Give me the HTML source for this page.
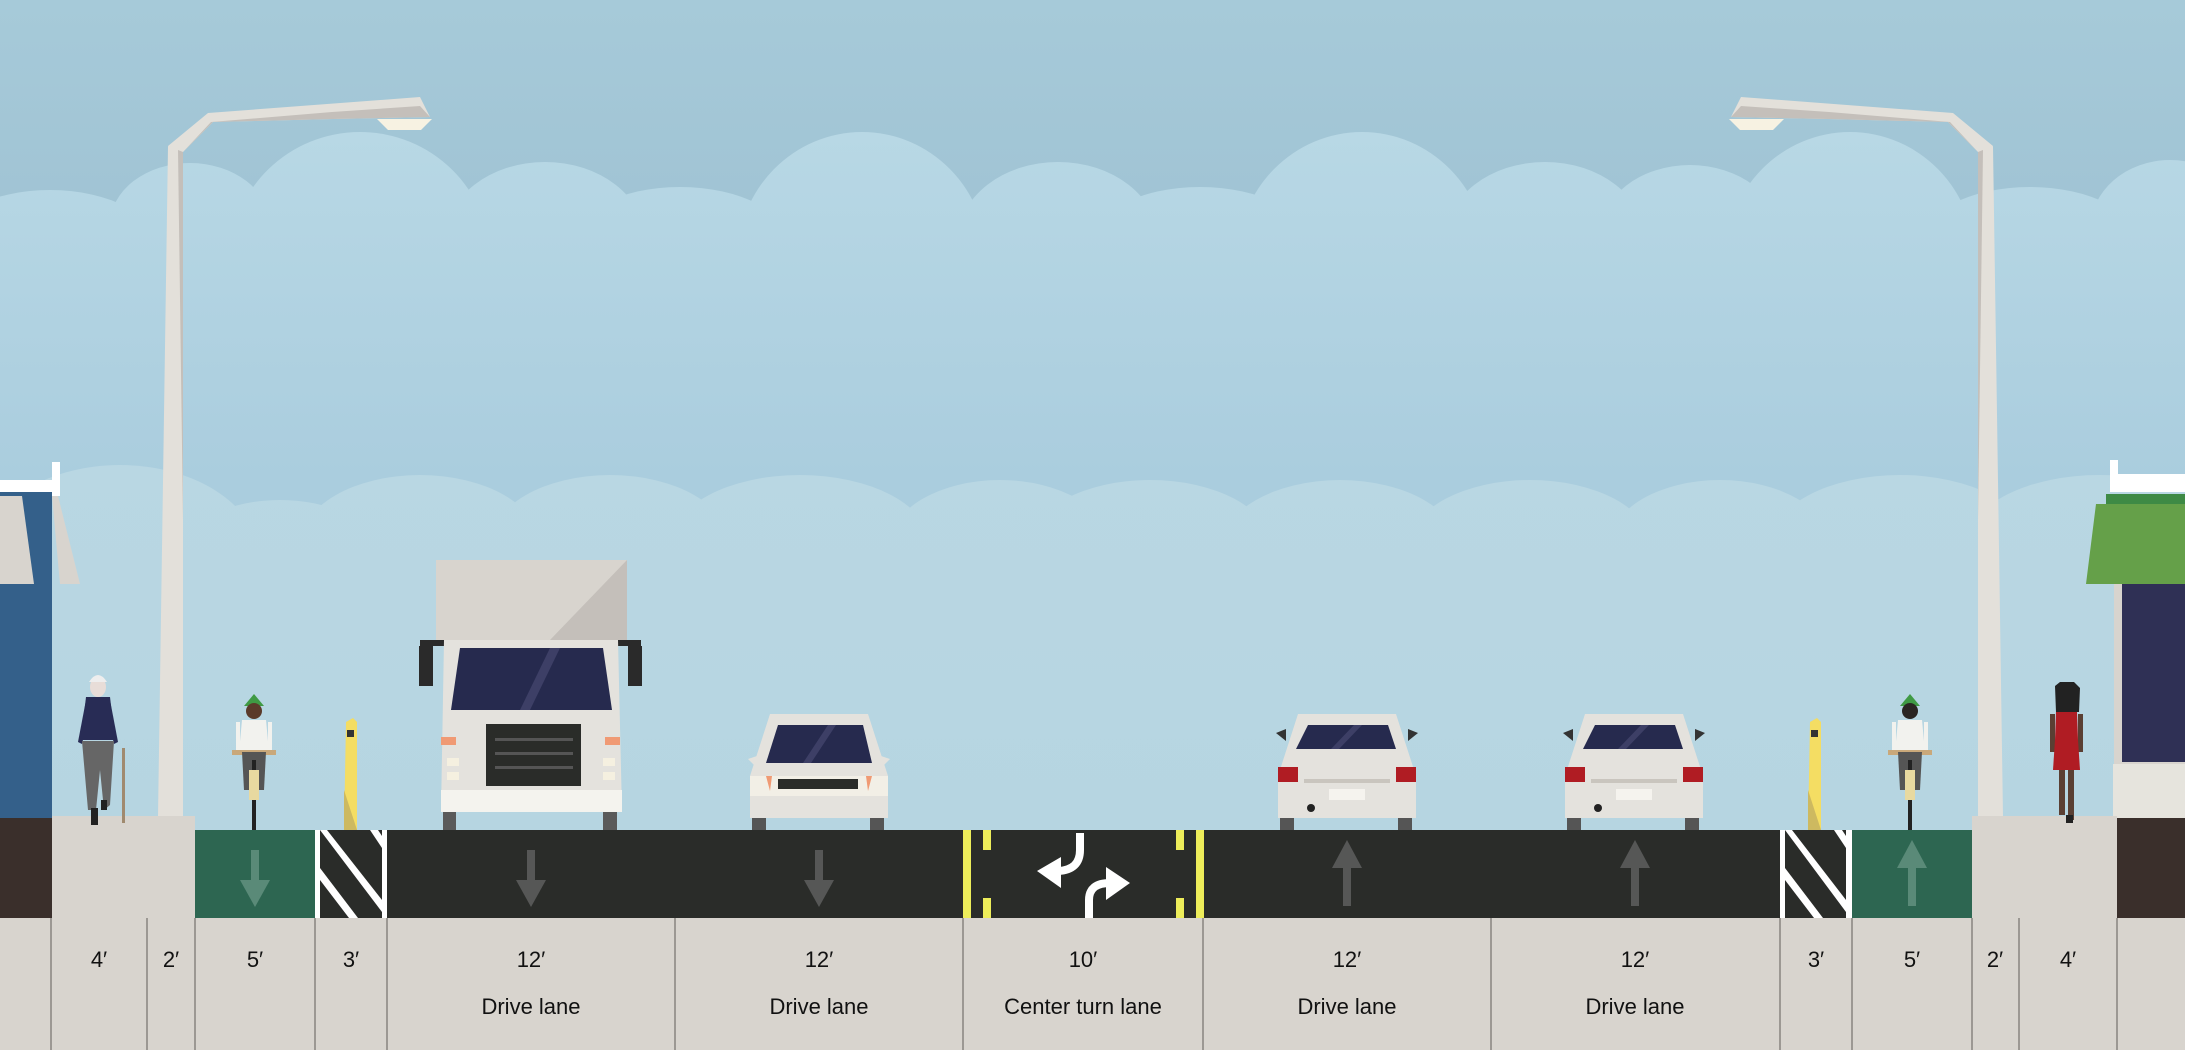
<!DOCTYPE html>
<html><head><meta charset="utf-8"><style>
html,body{margin:0;padding:0;width:2185px;height:1050px;overflow:hidden;background:#a9ccdb}
svg{display:block}
text{font-family:"Liberation Sans",sans-serif;font-size:22px;fill:#111;text-anchor:middle}
</style></head><body>
<svg width="2185" height="1050" viewBox="0 0 2185 1050" xmlns="http://www.w3.org/2000/svg">
<defs>
<linearGradient id="sky" x1="0" y1="0" x2="0" y2="1">
<stop offset="0" stop-color="#a6cad9"/><stop offset="0.25" stop-color="#9fc2d3"/><stop offset="1" stop-color="#a9cddc"/>
</linearGradient>
<linearGradient id="cl" gradientUnits="userSpaceOnUse" x1="0" y1="130" x2="0" y2="830">
<stop offset="0" stop-color="#b8d8e5"/><stop offset="0.5" stop-color="#aacdde"/><stop offset="1" stop-color="#a9ccdb"/>
</linearGradient>
<linearGradient id="cl2" gradientUnits="userSpaceOnUse" x1="0" y1="460" x2="0" y2="830">
<stop offset="0" stop-color="#b9d7e3"/><stop offset="1" stop-color="#b6d5e1"/>
</linearGradient>
</defs>
<rect width="2185" height="1050" fill="url(#sky)"/>
<!-- back clouds -->
<g fill="url(#cl)">
<rect x="0" y="205" width="2185" height="625"/>
<ellipse cx="50" cy="250" rx="110" ry="60"/>
<ellipse cx="190" cy="225" rx="80" ry="62"/>
<ellipse cx="360" cy="260" rx="130" ry="128"/>
<ellipse cx="545" cy="240" rx="100" ry="78"/>
<ellipse cx="680" cy="245" rx="110" ry="58"/>
<ellipse cx="862" cy="260" rx="125" ry="128"/>
<ellipse cx="1058" cy="240" rx="100" ry="78"/>
<ellipse cx="1200" cy="245" rx="110" ry="58"/>
<ellipse cx="1362" cy="260" rx="125" ry="128"/>
<ellipse cx="1545" cy="240" rx="100" ry="78"/>
<ellipse cx="1690" cy="235" rx="90" ry="70"/>
<ellipse cx="1850" cy="260" rx="125" ry="128"/>
<ellipse cx="2030" cy="245" rx="110" ry="58"/>
<ellipse cx="2170" cy="230" rx="80" ry="70"/>
</g>
<!-- front clouds -->
<g fill="url(#cl2)">
<rect x="0" y="520" width="2185" height="310"/>
<ellipse cx="120" cy="560" rx="140" ry="95"/>
<ellipse cx="280" cy="545" rx="90" ry="45"/>
<ellipse cx="420" cy="545" rx="120" ry="70"/>
<ellipse cx="610" cy="545" rx="120" ry="70"/>
<ellipse cx="800" cy="545" rx="130" ry="70"/>
<ellipse cx="1000" cy="545" rx="110" ry="65"/>
<ellipse cx="1150" cy="545" rx="120" ry="65"/>
<ellipse cx="1340" cy="550" rx="120" ry="70"/>
<ellipse cx="1530" cy="545" rx="120" ry="65"/>
<ellipse cx="1720" cy="545" rx="110" ry="65"/>
<ellipse cx="1900" cy="545" rx="130" ry="70"/>
<ellipse cx="2100" cy="540" rx="130" ry="65"/>
</g>

<!-- left building -->
<rect x="0" y="480" width="60" height="16" fill="#fff"/>
<rect x="52" y="462" width="8" height="20" fill="#fff"/>
<rect x="0" y="492" width="52" height="330" fill="#34608a"/>
<polygon points="0,496 22,496 34,584 0,584" fill="#d8d4ce"/>
<polygon points="52,496 58,496 80,584 60,584" fill="#d8d4ce"/>
<rect x="0" y="818" width="52" height="100" fill="#3a2f2b"/>
<!-- right building -->
<rect x="2110" y="474" width="75" height="18" fill="#fff"/>
<rect x="2110" y="460" width="8" height="16" fill="#fff"/>
<rect x="2106" y="494" width="79" height="10" fill="#3e8a45"/>
<polygon points="2096,504 2185,504 2185,584 2086,584" fill="#65a049"/>
<rect x="2114" y="584" width="71" height="180" fill="#d8d4ce"/>
<rect x="2122" y="584" width="63" height="178" fill="#2f3055"/>
<rect x="2113" y="764" width="72" height="55" fill="#e6e4dd"/>
<rect x="2117" y="818" width="68" height="100" fill="#3a2f2b"/>

<!-- lamps -->
<g>
<polygon points="168,146 183,150 183,817 158,817" fill="#e3e0da"/>
<polygon points="178,150 183,150 183,520" fill="#c4bfba"/>
<polygon points="168,146 208,113 420,97 430,117 333,119 213,122 183,152" fill="#e3e0da"/>
<polygon points="183,152 213,122 333,119 430,117 420,106 332,112 211,122" fill="#c4bfba"/>
<polygon points="377,119 432,119 421,130 388,130" fill="#f7f2e2"/>
</g>
<g transform="translate(2161,0) scale(-1,1)">
<polygon points="168,146 183,150 183,817 158,817" fill="#e3e0da"/>
<polygon points="178,150 183,150 183,520" fill="#c4bfba"/>
<polygon points="168,146 208,113 420,97 430,117 333,119 213,122 183,152" fill="#e3e0da"/>
<polygon points="183,152 213,122 333,119 430,117 420,106 332,112 211,122" fill="#c4bfba"/>
<polygon points="377,119 432,119 421,130 388,130" fill="#f7f2e2"/>
</g>

<!-- sidewalks -->
<rect x="52" y="816" width="143" height="102" fill="#d8d4ce"/>
<rect x="1972" y="816" width="145" height="102" fill="#d8d4ce"/>

<!-- road -->
<rect x="195" y="830" width="1777" height="88" fill="#2a2c29"/>
<rect x="195" y="830" width="120" height="88" fill="#2d6651"/>
<rect x="1852" y="830" width="120" height="88" fill="#2d6651"/>
<!-- buffers -->
<g fill="#fff">
<rect x="315" y="830" width="5" height="88"/><rect x="382" y="830" width="5" height="88"/>
<polygon points="320,830 327,830 382,900 382,912"/>
<polygon points="320,880 320,868 358,918 349,918"/>
<polygon points="370,830 378,830 382,836 382,848"/>
<rect x="1780" y="830" width="5" height="88"/><rect x="1846" y="830" width="6" height="88"/>
<polygon points="1785,830 1792,830 1846,900 1846,912"/>
<polygon points="1785,880 1785,868 1823,918 1814,918"/>
<polygon points="1834,830 1842,830 1846,836 1846,848"/>
</g>
<!-- arrows -->
<g fill="#565756">
<rect x="251" y="850" width="8" height="30" fill="#5a8a78"/><polygon points="240,880 270,880 255,907" fill="#5a8a78"/>
<rect x="527" y="850" width="8" height="30"/><polygon points="516,880 546,880 531,907"/>
<rect x="815" y="850" width="8" height="30"/><polygon points="804,880 834,880 819,907"/>
<rect x="1343" y="868" width="8" height="38"/><polygon points="1332,868 1362,868 1347,840"/>
<rect x="1631" y="868" width="8" height="38"/><polygon points="1620,868 1650,868 1635,840"/>
<rect x="1908" y="868" width="8" height="38" fill="#5a8a78"/><polygon points="1897,868 1927,868 1912,840" fill="#5a8a78"/>
</g>
<!-- center turn lane -->
<g fill="#eded5a">
<rect x="963" y="830" width="8" height="88"/><rect x="1196" y="830" width="8" height="88"/>
<rect x="983" y="830" width="8" height="20"/><rect x="983" y="898" width="8" height="20"/>
<rect x="1176" y="830" width="8" height="20"/><rect x="1176" y="898" width="8" height="20"/>
</g>
<path d="M1080,833 L1080,850 Q1080,870 1058,871" stroke="#fff" stroke-width="8" fill="none"/>
<polygon points="1037,871 1061,857 1061,888" fill="#fff"/>
<path d="M1089,918 L1089,900 Q1089,883 1110,883" stroke="#fff" stroke-width="8" fill="none"/>
<polygon points="1130,883 1106,867 1106,900" fill="#fff"/>

<!-- bollards -->
<polygon points="346,722 353,718 357,722 357,830 344,830" fill="#f4dd63"/>
<polygon points="344,790 357,830 344,830" fill="#cdb960"/>
<rect x="347" y="730" width="7" height="7" fill="#333"/>
<polygon points="1810,722 1817,718 1821,722 1821,830 1808,830" fill="#f4dd63"/>
<polygon points="1808,790 1821,830 1808,830" fill="#cdb960"/>
<rect x="1811" y="730" width="7" height="7" fill="#333"/>

<!-- truck -->
<rect x="436" y="560" width="191" height="80" fill="#d8d4ce"/>
<polygon points="627,560 627,640 550,640" fill="#c4bfba"/>
<rect x="420" y="640" width="221" height="6" fill="#2a2a2a"/>
<rect x="419" y="646" width="14" height="40" fill="#2a2a2a"/>
<rect x="628" y="646" width="14" height="40" fill="#2a2a2a"/>
<polygon points="444,640 618,640 622,812 441,812" fill="#e4e2dd"/>
<polygon points="460,648 603,648 612,710 451,710" fill="#262a4e"/>
<polygon points="520,710 550,648 560,648 530,710" fill="#3d3f66"/>
<rect x="486" y="724" width="95" height="62" fill="#2a2c29"/>
<g fill="#555"><rect x="495" y="738" width="78" height="3"/><rect x="495" y="752" width="78" height="3"/><rect x="495" y="766" width="78" height="3"/></g>
<rect x="441" y="737" width="15" height="8" fill="#f09a74"/><rect x="605" y="737" width="15" height="8" fill="#f09a74"/>
<rect x="447" y="758" width="12" height="8" fill="#f5f0e0"/><rect x="603" y="758" width="12" height="8" fill="#f5f0e0"/>
<rect x="447" y="772" width="12" height="8" fill="#f5f0e0"/><rect x="603" y="772" width="12" height="8" fill="#f5f0e0"/>
<rect x="441" y="790" width="181" height="22" fill="#f4f3ee"/>
<rect x="443" y="812" width="13" height="18" fill="#5a5a5a"/><rect x="603" y="812" width="14" height="18" fill="#5a5a5a"/>

<!-- car front (car1) -->
<g transform="translate(748,711)">
<polygon points="22,3 120,3 140,65 140,107 2,107 2,65" fill="#e4e2dd"/>
<polygon points="30,14 115,14 124,52 18,52" fill="#262a4e"/>
<polygon points="55,52 80,14 88,14 63,52" fill="#3d3f66"/>
<polygon points="0,48 12,44 10,58" fill="#e4e2dd"/><polygon points="142,48 130,44 132,58" fill="#e4e2dd"/>
<rect x="2" y="65" width="138" height="20" fill="#f2efe6"/>
<rect x="30" y="68" width="80" height="10" fill="#2a2c29"/>
<polygon points="18,65 24,65 22,80" fill="#f09a74"/><polygon points="124,65 118,65 120,80" fill="#f09a74"/>
<rect x="4" y="107" width="14" height="12" fill="#555"/><rect x="122" y="107" width="14" height="12" fill="#555"/>
</g>
<!-- car rears -->
<g transform="translate(1276,711)">
<polygon points="22,3 120,3 140,65 140,107 2,107 2,65" fill="#e4e2dd"/>
<polygon points="32,14 112,14 120,38 20,38" fill="#262a4e"/>
<polygon points="55,38 78,14 86,14 63,38" fill="#3d3f66"/>
<polygon points="0,22 10,18 10,30" fill="#333"/><polygon points="142,22 132,18 132,30" fill="#333"/>
<rect x="2" y="56" width="20" height="15" fill="#b01c23"/><rect x="120" y="56" width="20" height="15" fill="#b01c23"/>
<rect x="28" y="68" width="86" height="4" fill="#c9c5be"/>
<rect x="53" y="78" width="36" height="11" fill="#f5f3ee"/>
<circle cx="35" cy="97" r="4" fill="#222"/>
<rect x="4" y="107" width="14" height="12" fill="#555"/><rect x="122" y="107" width="14" height="12" fill="#555"/>
</g>
<g transform="translate(1563,711)">
<polygon points="22,3 120,3 140,65 140,107 2,107 2,65" fill="#e4e2dd"/>
<polygon points="32,14 112,14 120,38 20,38" fill="#262a4e"/>
<polygon points="55,38 78,14 86,14 63,38" fill="#3d3f66"/>
<polygon points="0,22 10,18 10,30" fill="#333"/><polygon points="142,22 132,18 132,30" fill="#333"/>
<rect x="2" y="56" width="20" height="15" fill="#b01c23"/><rect x="120" y="56" width="20" height="15" fill="#b01c23"/>
<rect x="28" y="68" width="86" height="4" fill="#c9c5be"/>
<rect x="53" y="78" width="36" height="11" fill="#f5f3ee"/>
<circle cx="35" cy="97" r="4" fill="#222"/>
<rect x="4" y="107" width="14" height="12" fill="#555"/><rect x="122" y="107" width="14" height="12" fill="#555"/>
</g>

<!-- pedestrian left -->
<g>
<ellipse cx="98" cy="687" rx="8" ry="10" fill="#e8ddd8"/>
<path d="M89,682 Q98,668 107,682" fill="#eee"/>
<polygon points="86,697 110,697 115,740 81,740" fill="#282c55"/>
<polygon points="86,700 78,742 82,744 90,710" fill="#282c55"/>
<polygon points="110,700 118,742 114,744 106,710" fill="#282c55"/>
<polygon points="82,741 114,741 110,805 104,810 100,770 96,810 88,810" fill="#666"/>
<rect x="91" y="808" width="7" height="17" fill="#222"/><rect x="101" y="800" width="6" height="10" fill="#222"/>
<rect x="122" y="748" width="3" height="75" fill="#a08a6f"/>
</g>
<!-- cyclists -->
<g>
<polygon points="244,706 254,694 264,706" fill="#3f9a44"/>
<ellipse cx="254" cy="711" rx="8" ry="8" fill="#5a3a2a"/>
<polygon points="242,720 266,720 269,752 239,752" fill="#f2f2ee"/>
<rect x="236" y="722" width="4" height="32" fill="#f2f2ee"/><rect x="268" y="722" width="4" height="32" fill="#f2f2ee"/>
<rect x="232" y="750" width="44" height="5" fill="#c9a87a"/>
<polygon points="242,752 266,752 264,790 244,790" fill="#555"/>
<rect x="252" y="760" width="4" height="70" fill="#222"/>
<rect x="249" y="770" width="10" height="30" fill="#e8d9a0"/>
</g>
<g transform="translate(1656,0)">
<polygon points="244,706 254,694 264,706" fill="#3f9a44"/>
<ellipse cx="254" cy="711" rx="8" ry="8" fill="#2a2522"/>
<polygon points="242,720 266,720 269,752 239,752" fill="#f2f2ee"/>
<rect x="236" y="722" width="4" height="32" fill="#f2f2ee"/><rect x="268" y="722" width="4" height="32" fill="#f2f2ee"/>
<rect x="232" y="750" width="44" height="5" fill="#c9a87a"/>
<polygon points="242,752 266,752 264,790 244,790" fill="#555"/>
<rect x="252" y="760" width="4" height="70" fill="#222"/>
<rect x="249" y="770" width="10" height="30" fill="#e8d9a0"/>
</g>
<!-- pedestrian right -->
<g>
<polygon points="2055,686 2060,682 2074,682 2080,688 2079,712 2056,712" fill="#222"/>
<polygon points="2056,712 2077,712 2078,740 2055,740" fill="#b01c23"/>
<rect x="2050" y="714" width="5" height="38" fill="#5a3f33"/><rect x="2078" y="714" width="5" height="38" fill="#5a3f33"/>
<polygon points="2055,740 2078,740 2080,770 2053,770" fill="#b01c23"/>
<rect x="2059" y="770" width="6" height="45" fill="#5a3f33"/><rect x="2068" y="770" width="6" height="50" fill="#5a3f33"/>
<rect x="2066" y="815" width="7" height="8" fill="#222"/>
</g>

<!-- label area -->
<rect x="0" y="918" width="2185" height="132" fill="#d8d4ce"/>
<g stroke="#9c9893" stroke-width="2">
<line x1="51" y1="918" x2="51" y2="1050"/><line x1="147" y1="918" x2="147" y2="1050"/>
<line x1="195" y1="918" x2="195" y2="1050"/><line x1="315" y1="918" x2="315" y2="1050"/>
<line x1="387" y1="918" x2="387" y2="1050"/><line x1="675" y1="918" x2="675" y2="1050"/>
<line x1="963" y1="918" x2="963" y2="1050"/><line x1="1203" y1="918" x2="1203" y2="1050"/>
<line x1="1491" y1="918" x2="1491" y2="1050"/><line x1="1780" y1="918" x2="1780" y2="1050"/>
<line x1="1852" y1="918" x2="1852" y2="1050"/><line x1="1972" y1="918" x2="1972" y2="1050"/>
<line x1="2019" y1="918" x2="2019" y2="1050"/><line x1="2117" y1="918" x2="2117" y2="1050"/>
</g>
<g>
<text x="99" y="967">4′</text><text x="171" y="967">2′</text><text x="255" y="967">5′</text><text x="351" y="967">3′</text>
<text x="531" y="967">12′</text><text x="819" y="967">12′</text><text x="1083" y="967">10′</text>
<text x="1347" y="967">12′</text><text x="1635" y="967">12′</text><text x="1816" y="967">3′</text>
<text x="1912" y="967">5′</text><text x="1995" y="967">2′</text><text x="2068" y="967">4′</text>
<text x="531" y="1014">Drive lane</text><text x="819" y="1014">Drive lane</text><text x="1083" y="1014">Center turn lane</text>
<text x="1347" y="1014">Drive lane</text><text x="1635" y="1014">Drive lane</text>
</g>
</svg>
</body></html>
